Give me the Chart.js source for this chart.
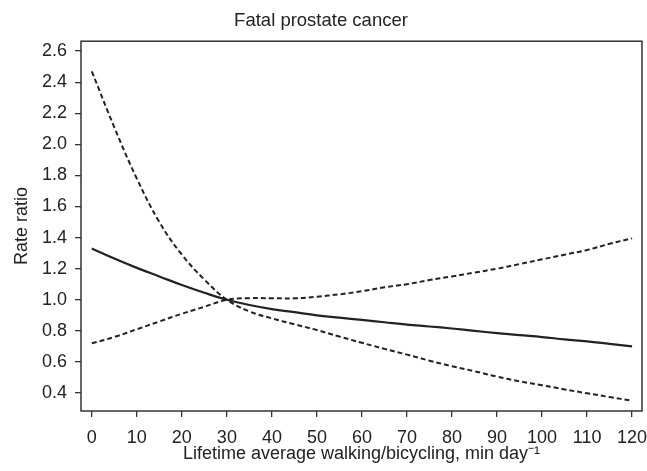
<!DOCTYPE html>
<html>
<head>
<meta charset="utf-8">
<script src="https://cdn.jsdelivr.net/npm/chart.js@4"></script>
<style>
  html, body { margin: 0; padding: 0; background: #fff; }
  #wrap { width: 647px; height: 471px; }
</style>
</head>
<body>
<div id="wrap"><canvas id="myChart" width="647" height="471"></canvas></div>
<script>
// Dados
const minutes = [0, 5, 10, 15, 20, 25, 30, 35, 40, 45, 50, 55, 60, 65, 70, 75, 80, 85, 90, 95, 100, 105, 110, 115, 120];
const rateRatio = [1.33, 1.265, 1.205, 1.15, 1.095, 1.045, 1.00, 0.966, 0.94, 0.92, 0.90, 0.885, 0.87, 0.855, 0.84, 0.828, 0.815, 0.80, 0.785, 0.772, 0.76, 0.745, 0.732, 0.716, 0.70];
const upperCI = [2.47, 2.11, 1.78, 1.50, 1.29, 1.13, 1.00, 0.925, 0.88, 0.842, 0.805, 0.763, 0.723, 0.684, 0.647, 0.608, 0.572, 0.54, 0.505, 0.475, 0.45, 0.423, 0.398, 0.374, 0.35];
const lowerCI = [0.72, 0.76, 0.81, 0.86, 0.91, 0.955, 1.00, 1.01, 1.01, 1.009, 1.02, 1.035, 1.055, 1.08, 1.10, 1.127, 1.15, 1.175, 1.20, 1.23, 1.26, 1.29, 1.32, 1.36, 1.395];
const xTicks = [0, 10, 20, 30, 40, 50, 60, 70, 80, 90, 100, 110, 120];
const yTicks = [0.4, 0.6, 0.8, 1.0, 1.2, 1.4, 1.6, 1.8, 2.0, 2.2, 2.4, 2.6];

const ink = '#222';
const toPoints = (ys) => minutes.map((m, i) => ({ x: m, y: ys[i] }));

Chart.defaults.font.family = '"Liberation Sans", Arial, sans-serif';
Chart.defaults.font.size = 18;
Chart.defaults.color = ink;

// Moldura em volta da área do gráfico
const frame = {
    id: 'frame',
    afterDatasetsDraw(chart) {
        const { ctx, chartArea: a } = chart;
        ctx.save();
        ctx.strokeStyle = '#333';
        ctx.lineWidth = 1.5;
        ctx.strokeRect(a.left, a.top, a.right - a.left, a.bottom - a.top);
        ctx.restore();
    }
};

const lineStyle = { borderColor: ink, pointRadius: 0, fill: false, tension: 0.4 };

const ctx = document.getElementById('myChart').getContext('2d');
new Chart(ctx, {
    type: 'line',
    data: {
        datasets: [
            { ...lineStyle, label: 'RR', data: toPoints(rateRatio), borderWidth: 2.2 },
            { ...lineStyle, label: 'Upper', data: toPoints(upperCI), borderWidth: 2, borderDash: [5, 3] },
            { ...lineStyle, label: 'Lower', data: toPoints(lowerCI), borderWidth: 2, borderDash: [5, 3] }
        ]
    },
    options: {
        responsive: false,
        animation: false,
        layout: { padding: { left: 0, right: 5, top: 0, bottom: 0 } },
        plugins: {
            legend: { display: false },
            tooltip: { enabled: false },
            title: {
                display: true,
                text: 'Fatal prostate cancer',
                color: ink,
                font: { size: 18.5, weight: 'normal' },
                padding: { top: 10, bottom: 9 }
            }
        },
        scales: {
            x: {
                type: 'linear',
                min: -2.4,
                max: 122.2,
                afterBuildTicks: (s) => { s.ticks = xTicks.map(v => ({ value: v })); },
                afterFit: (s) => { s.height = 60; s.paddingLeft = 0; s.paddingRight = 0; },
                ticks: { padding: 10, color: ink, maxRotation: 0 },
                grid: { drawOnChartArea: false, tickLength: 6, color: '#333', lineWidth: 1.3 },
                border: { display: false },
                title: {
                    display: true,
                    text: 'Lifetime average walking/bicycling, min day\u207B\u00B9',
                    color: ink,
                    font: { size: 18 },
                    padding: { top: 0, bottom: 6 }
                }
            },
            y: {
                type: 'linear',
                min: 0.284,
                max: 2.664,
                afterBuildTicks: (s) => { s.ticks = yTicks.map(v => ({ value: v })); },
                afterFit: (s) => { s.width = 81; },
                ticks: { padding: 8, color: ink, callback: (v) => v.toFixed(1) },
                grid: { drawOnChartArea: false, tickLength: 6, color: '#333', lineWidth: 1.3 },
                border: { display: false },
                title: {
                    display: true,
                    text: 'Rate ratio',
                    color: ink,
                    font: { size: 18 },
                    padding: { top: 11, bottom: 0 }
                }
            }
        }
    },
    plugins: [frame]
});
</script>
</body>
</html>
